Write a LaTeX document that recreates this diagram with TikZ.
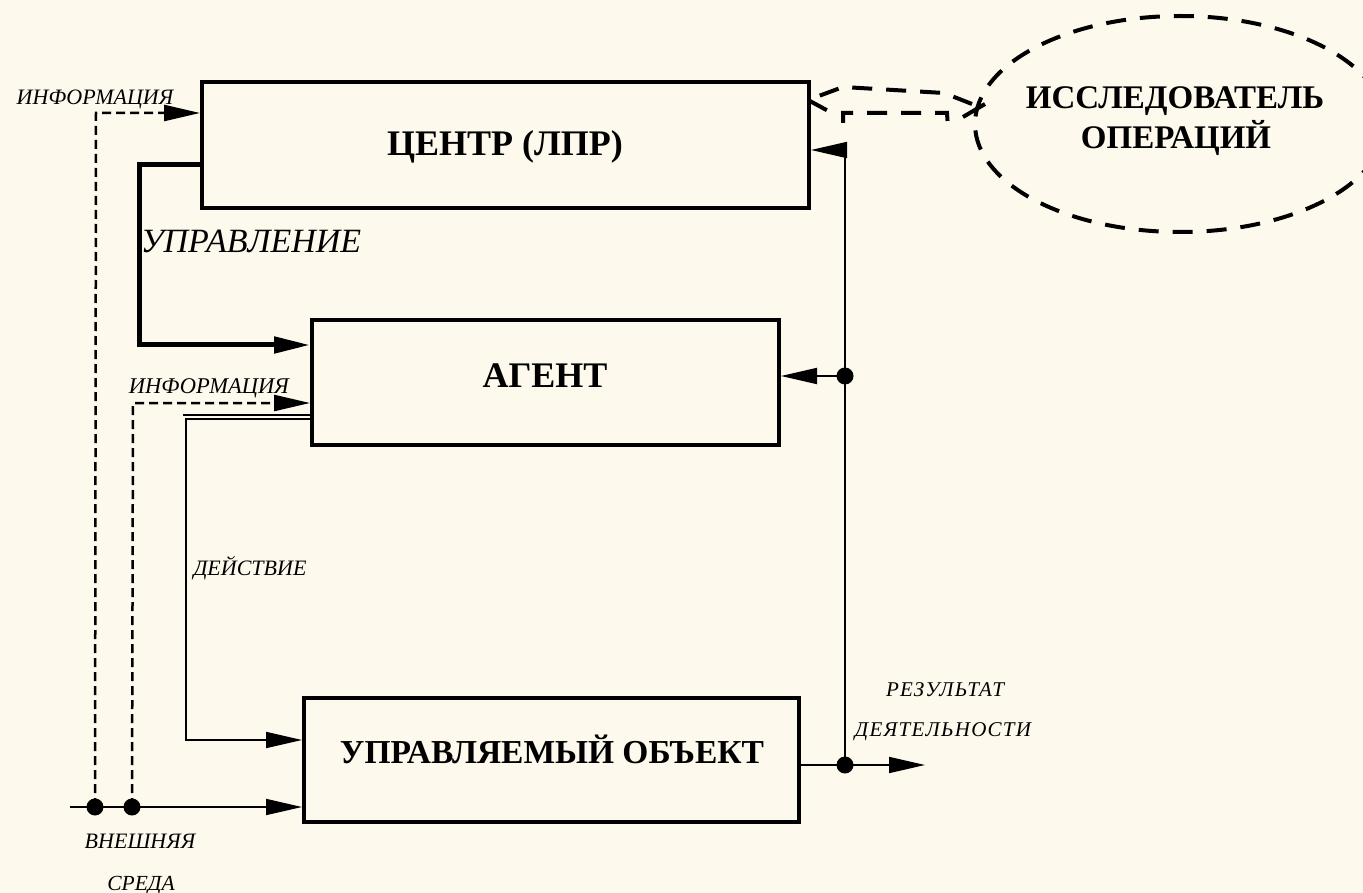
\documentclass[tikz,border=0pt]{standalone}
\usepackage{fontspec}
\setmainfont{Liberation Serif}
\usetikzlibrary{arrows.meta,shapes.geometric}
\definecolor{bgcream}{HTML}{FDF9ED}
\tikzset{
  boxnode/.style={draw, line width=4pt, rectangle, inner sep=0pt},
  boxtext/.style={anchor=base, inner sep=0pt, font=\bfseries\fontsize{#1}{#1}\selectfont},
  smalltext/.style={anchor=base, inner sep=0pt, font=\itshape\fontsize{#1}{#1}\selectfont},
  spacedtext/.style={anchor=base, inner sep=0pt, font=\itshape\fontsize{#1}{#1}\selectfont\addfontfeature{LetterSpace=6}},
  bigtip/.style={-{Triangle[length=36pt,width=16pt]}},
  dashinfo/.style={line width=2.5pt, dash pattern=on 9pt off 5pt},
  ctrlline/.style={line width=5pt},
  thinline/.style={line width=1.8pt},
  dotnode/.style={circle, fill=black, inner sep=0pt, minimum size=17pt},
  calloutdash/.style={line width=4pt, dash pattern=on 20pt off 14pt}
}
\begin{document}
\begin{tikzpicture}[x=1pt,y=-1pt]
\fill[bgcream] (0,0) rectangle (1363,893);
\useasboundingbox (0,0) rectangle (1363,893);

% boxes
\node[boxnode, minimum width=607pt, minimum height=126pt] (center) at (505.5,145) {};
\node[boxnode, minimum width=467pt, minimum height=125pt] (agent) at (545.5,382.5) {};
\node[boxnode, minimum width=495pt, minimum height=124pt] (object) at (551.5,760) {};

\node[boxtext=36] (tcenter) at (505,156) {ЦЕНТР (ЛПР)};
\node[boxtext=36] (tagent) at (545,388) {АГЕНТ};
\node[boxtext=33.5] (tobject) at (552,763) {УПРАВЛЯЕМЫЙ ОБЪЕКТ};

% ellipse
\node[draw, calloutdash, ellipse, minimum width=410pt, minimum height=216pt, inner sep=0pt] (res) at (1180,124) {};
\node[boxtext=33] (tres1) at (1175,109) {ИССЛЕДОВАТЕЛЬ};
\node[boxtext=33] (tres2) at (1176,149) {ОПЕРАЦИЙ};

% callout tail
\coordinate (ta0) at (808,100);
\coordinate (ta1) at (843,87);
\coordinate (ta2) at (944,93);
\coordinate (ta3) at (972,104);
\draw[calloutdash] (ta3) -- (ta2) -- (ta1) -- (ta0) -- (832,113);
\coordinate (tb0) at (843,123);
\coordinate (tb1) at (843,113);
\coordinate (tb2) at (947,113);
\coordinate (tb3) at (948,128);
\draw[calloutdash] (tb0) -- (tb1) -- (tb2) -- (tb3);
\coordinate (tc0) at (963,117);
\coordinate (tc1) at (985,104);
\draw[line width=4pt] (tc0) -- (tc1);

% environment line
\coordinate (envstart) at (70,807);
\node[dotnode] (dA) at (95,807) {};
\node[dotnode] (dB) at (132,807) {};
\draw[thinline, bigtip] (envstart) -- (object.west |- envstart);

% information to center
\coordinate (ci1) at (96,113);
\draw[dashinfo, bigtip] (dA.center) -- (ci1) -- (center.west |- ci1);
\node[smalltext=22] (tinfo1) at (95,105) {ИНФОРМАЦИЯ};

% information to agent
\coordinate (ci2) at (133,403);
\draw[dashinfo, bigtip] (dB.center) -- (ci2) -- (agent.west |- ci2);
\node[smalltext=22.5] (tinfo2) at (209,393) {ИНФОРМАЦИЯ};

% control
\coordinate (cc0) at (center.west |- 0,165);
\coordinate (cc1) at (139,165);
\coordinate (cc2) at (139,345);
\draw[ctrlline, bigtip] (cc0) -- (cc1) -- (cc2) -- (agent.west |- cc2);
\node[smalltext=34] (tctrl) at (251,253) {УПРАВЛЕНИЕ};

% action (double line)
\coordinate (aa0) at (agent.west |- 0,415);
\coordinate (aa1) at (183,415);
\draw[thinline] (aa0) -- (aa1);
\coordinate (ab0) at (agent.west |- 0,419);
\coordinate (ab1) at (186,419);
\coordinate (ab2) at (186,740);
\draw[thinline, bigtip] (ab0) -- (ab1) -- (ab2) -- (object.west |- ab2);
\node[smalltext=22] (tact) at (250,575) {ДЕЙСТВИЕ};

% result
\coordinate (ro0) at (object.east |- 0,765);
\coordinate (roend) at (925,765);
\node[dotnode] (dR) at (845,765) {};
\draw[thinline, bigtip] (ro0) -- (roend);
\coordinate (rtop) at (845,150);
\draw[thinline, bigtip] (dR.center) -- (rtop) -- (center.east |- rtop);
\node[dotnode] (dM) at (845,376) {};
\draw[thinline, bigtip] (dM.center) -- (agent.east |- dM);
\node[spacedtext=21] (tres3) at (945,696) {РЕЗУЛЬТАТ};
\node[spacedtext=21] (tres4) at (943,736) {ДЕЯТЕЛЬНОСТИ};

% environment labels
\node[smalltext=22] (tenv1) at (140,848) {ВНЕШНЯЯ};
\node[smalltext=21.5] (tenv2) at (141,890) {СРЕДА};
\end{tikzpicture}
\end{document}
